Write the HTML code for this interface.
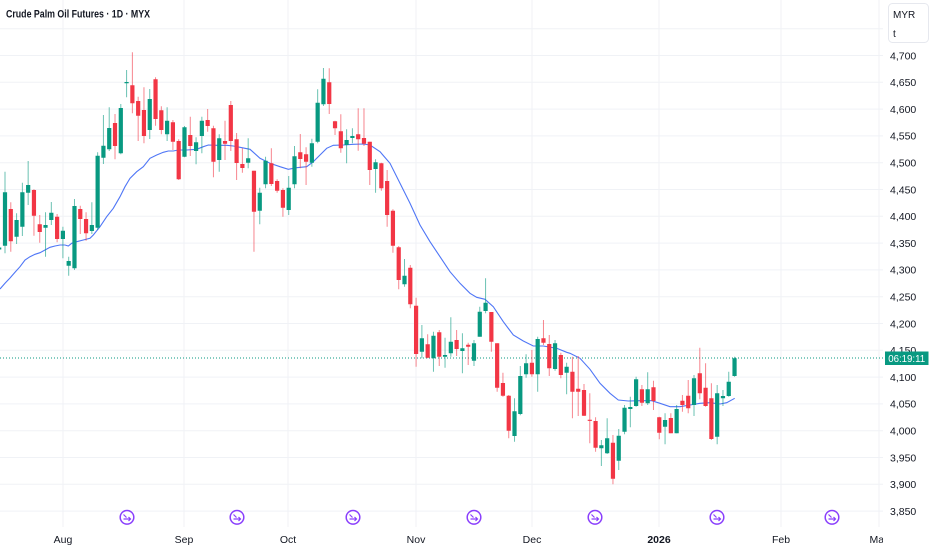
<!DOCTYPE html>
<html>
<head>
<meta charset="utf-8">
<style>
html,body{margin:0;padding:0;background:#ffffff;}
svg{display:block;}
text{font-family:"Liberation Sans",sans-serif;}
</style>
</head>
<body>
<svg width="932" height="550" viewBox="0 0 932 550" xmlns="http://www.w3.org/2000/svg">
<rect x="0" y="0" width="932" height="550" fill="#ffffff"/>
<defs><clipPath id="cc"><rect x="0" y="0" width="883" height="527"/></clipPath></defs>

<path fill="none" stroke="#f0f2f6" stroke-width="1" d="M0 28.7H883M0 55.5H883M0 82.3H883M0 109.1H883M0 135.9H883M0 162.7H883M0 189.5H883M0 216.3H883M0 243.1H883M0 269.9H883M0 296.7H883M0 323.5H883M0 350.3H883M0 377.1H883M0 403.9H883M0 430.7H883M0 457.5H883M0 484.3H883M0 511.1H883M63 0V527M184 0V527M288 0V527M416 0V527M532 0V527M659 0V527M781 0V527M879 0V527"/>

<line x1="0" y1="358" x2="883" y2="358" stroke="#089981" stroke-width="1" stroke-dasharray="1 2"/>

<g clip-path="url(#cc)">
<polyline fill="none" stroke="#4f76f6" stroke-width="1.1" points="0,289 5,283.3 10,278 15,272.3 20,266.7 25,260 30,256.7 35,254.3 40,252.7 45,250 50,247.3 55,246 60,245 65,245 68.3,246 71.7,243.3 76.7,241.7 83.3,240 90,238.3 93.3,235 100,226.7 106.7,216.7 113.3,208.3 120,196.7 125,186.7 130,178.3 136.7,171.7 143.3,166.7 150,158.3 156.7,155 163.3,152.3 168.3,151 173.3,151 178.3,150 186.7,150 196.7,149.3 203.3,146.7 208.3,145 216.7,145.3 226.7,145.3 233.3,146 240,147.3 250,149.3 260,158.3 270,163.3 280,166.7 288.3,169.3 296.7,167.7 306.7,166.7 313.3,161.7 320,155 326.7,148.3 333.3,145.3 343.3,145 353.3,144.3 363.3,144 370,145 380,151.7 390,163.3 400,183.3 410,203.3 420,225 430,241.7 440,256.7 450,271.7 460,283.3 470,293.3 476.7,297.3 485,299.3 493.3,306.7 503.3,321.7 513.3,335 523.3,341 533.3,346 543.3,346 556.7,348.3 566.7,352.3 570,353.3 580,358.3 590,369.3 600,383.3 610,393.3 618.3,400 628.3,401 640,400.7 651.7,400.7 660,403.3 670,406.7 680,406.7 690,405 700,403.3 710,402.7 720,404 726.7,402.7 734.7,398.3"/>

<path fill="none" stroke="#089981" stroke-opacity="0.6" stroke-width="1" d="M-0.8 246V251M5 171.7V253.3M16.58 213.3V244M22.37 182.7V236M28.16 161V205M45.53 212.3V256.7M51.32 202V225M62.9 226.7V258.3M68.69 256.7V275.7M74.48 199V270M91.85 202.3V234M97.64 152.3V230M103.43 115V164M109.22 107.3V151M120.8 104V154.3M126.59 70V97.3M149.75 89V139M167.12 107.3V141M184.49 126V157.3M196.07 137.3V164.3M201.86 116.7V153.3M219.23 134.3V171.7M248.18 138.3V168.3M259.76 187.7V224.3M265.55 156.7V188.3M288.71 176V215M294.5 146V188.3M311.87 138.7V166.7M317.66 89.3V143.3M323.45 68V106M346.61 129.3V163.3M352.4 128.3V143.3M375.56 159.3V192.7M404.51 259V286.7M421.88 325V358.3M433.46 331.7V371.7M445.04 337.7V367.7M450.83 317.3V356.7M462.41 333.3V373.3M473.99 340V366M479.78 306.7V336.7M485.57 278.3V313.3M514.52 398.3V441.7M520.31 366V415.3M526.1 354.3V377.7M537.68 336.7V391.7M555.05 340V370.7M566.63 362.7V394.3M601.37 440V466M607.16 418.3V454M618.74 429V470M624.53 405V434.3M630.32 396.7V427.3M636.11 376.7V406.7M647.69 372.3V405M665.06 413.3V444.3M676.64 405V433.3M694.01 375V416M717.17 385V444.3M722.96 390V406M728.75 371.7V396.7M734.54 356.7V376.7"/>

<path fill="none" stroke="#f23645" stroke-opacity="0.6" stroke-width="1" d="M10.79 202.3V251.7M33.95 189.3V235.7M39.74 215V242.7M57.11 214V242.3M80.27 205.7V234M86.06 212.3V240.7M115.01 114V159.3M132.38 52.3V113.3M138.17 96.7V141M143.96 87.3V143.3M155.54 77.3V125.7M161.33 106.3V134.3M172.91 120V150M178.7 139.3V180M190.28 116.7V156M207.65 109V131.7M213.44 125.7V177.3M225.02 120.7V160M230.81 101V151M236.6 133V180M242.39 148.3V172.7M253.97 170.7V251.7M271.34 148.3V186M277.13 179.3V192.7M282.92 188.3V216.7M300.29 134V168.3M306.08 147.3V185M329.24 68.3V114M335.03 120.7V135M340.82 114.3V152.7M358.19 108.3V150.7M363.98 108.3V146M369.77 141.7V185M381.35 162.7V190.7M387.14 170V226.7M392.93 209.3V252.7M398.72 246V289.3M410.3 265V308.3M416.09 297.7V366.7M427.67 334.3V358.3M439.25 330V366M456.62 330V356M468.2 342.7V365M491.36 312V351.7M497.15 343.3V391.7M502.94 372.7V396.7M508.73 395V438.3M531.89 350V376.7M543.47 320V345M549.26 335V376M560.84 352.7V378.3M572.42 356.7V418.3M578.21 356V416M584 384V416M589.79 393.3V443.3M595.58 417.3V451.7M612.95 435V484.3M641.9 385V406M653.48 380.7V410M659.27 416.7V439.3M670.85 413.3V433.3M682.43 395V411.7M688.22 380V413.3M699.8 347.7V399.3M705.59 363.3V406.7M711.38 383.3V440"/>

<path fill="#089981" d="M-2.9 247.5h4.2V249.5h-4.2zM2.9 192.3h4.2V245.7h-4.2zM14.48 220h4.2V236.7h-4.2zM20.27 192.3h4.2V226.7h-4.2zM26.06 185h4.2V192.7h-4.2zM43.43 225h4.2V227.7h-4.2zM49.22 212.7h4.2V220h-4.2zM60.8 230.7h4.2V239h-4.2zM66.59 261h4.2V265.7h-4.2zM72.38 206h4.2V268.3h-4.2zM89.75 225h4.2V231h-4.2zM95.54 155.7h4.2V227.7h-4.2zM101.33 145.7h4.2V157.7h-4.2zM107.12 128h4.2V149.3h-4.2zM118.7 108h4.2V153.3h-4.2zM124.49 82h4.2V83.2h-4.2zM147.65 99h4.2V130h-4.2zM165.02 120.7h4.2V134.3h-4.2zM182.39 127.3h4.2V156.7h-4.2zM193.97 142.3h4.2V151h-4.2zM199.76 120.7h4.2V136h-4.2zM217.13 138.3h4.2V160h-4.2zM246.08 158.3h4.2V162.7h-4.2zM257.66 192.7h4.2V210.7h-4.2zM263.45 160.7h4.2V184.3h-4.2zM286.61 187.7h4.2V210h-4.2zM292.4 156.3h4.2V184.3h-4.2zM309.77 143.3h4.2V162.7h-4.2zM315.56 102.7h4.2V141.7h-4.2zM321.35 78.7h4.2V104.3h-4.2zM344.51 140h4.2V145h-4.2zM350.3 136h4.2V138h-4.2zM373.46 162.3h4.2V169h-4.2zM402.41 275.7h4.2V284.3h-4.2zM419.78 338.3h4.2V351.7h-4.2zM431.36 335.7h4.2V358.3h-4.2zM442.94 355h4.2V356.7h-4.2zM448.73 341.7h4.2V353.3h-4.2zM460.31 348.3h4.2V351h-4.2zM471.89 343.3h4.2V360.7h-4.2zM477.68 311.7h4.2V336.7h-4.2zM483.47 302.7h4.2V311h-4.2zM512.42 411.3h4.2V436h-4.2zM518.21 376h4.2V414h-4.2zM524 363.3h4.2V374.3h-4.2zM535.58 339h4.2V374.3h-4.2zM552.95 343.3h4.2V369h-4.2zM564.53 366.7h4.2V372.7h-4.2zM599.27 445.3h4.2V448.3h-4.2zM605.06 438.3h4.2V453.3h-4.2zM616.64 435.7h4.2V460.7h-4.2zM622.43 407.7h4.2V431.7h-4.2zM628.22 407h4.2V409h-4.2zM634.01 379.3h4.2V406h-4.2zM645.59 389.3h4.2V403.3h-4.2zM662.96 420h4.2V426.7h-4.2zM674.54 409h4.2V433.3h-4.2zM691.91 378.3h4.2V405h-4.2zM715.07 393.3h4.2V436.7h-4.2zM720.86 396h4.2V398.3h-4.2zM726.65 381.7h4.2V396h-4.2zM732.44 358.3h4.2V376h-4.2z"/>

<path fill="#f23645" d="M8.69 209h4.2V241.3h-4.2zM31.85 190h4.2V215.7h-4.2zM37.64 224.3h4.2V232h-4.2zM55.01 216.7h4.2V239h-4.2zM78.17 209h4.2V219h-4.2zM83.96 219h4.2V233.3h-4.2zM112.91 123h4.2V146h-4.2zM130.28 85.3h4.2V103.3h-4.2zM136.07 101h4.2V115.7h-4.2zM141.86 110h4.2V136h-4.2zM153.44 79.3h4.2V119h-4.2zM159.23 110.3h4.2V130h-4.2zM170.81 122.3h4.2V141.7h-4.2zM176.6 141h4.2V179.3h-4.2zM188.18 135h4.2V146h-4.2zM205.55 120h4.2V126h-4.2zM211.34 128.3h4.2V161.7h-4.2zM222.92 141h4.2V143.7h-4.2zM228.71 105h4.2V141h-4.2zM234.5 139.3h4.2V163h-4.2zM240.29 164h4.2V168h-4.2zM251.87 170.7h4.2V211.7h-4.2zM269.24 163.3h4.2V184h-4.2zM275.03 181h4.2V190.7h-4.2zM280.82 190h4.2V207.7h-4.2zM298.19 152.3h4.2V159h-4.2zM303.98 154.3h4.2V161.7h-4.2zM327.14 82.3h4.2V104h-4.2zM332.93 121.3h4.2V128.3h-4.2zM338.72 131.3h4.2V148.3h-4.2zM356.09 134.3h4.2V139.3h-4.2zM361.88 138h4.2V143.7h-4.2zM367.67 141.7h4.2V170h-4.2zM379.25 163.3h4.2V188.3h-4.2zM385.04 181h4.2V215h-4.2zM390.83 210.7h4.2V245.7h-4.2zM396.62 247.3h4.2V280h-4.2zM408.2 267.7h4.2V304.3h-4.2zM413.99 305.7h4.2V354h-4.2zM425.57 344.3h4.2V357.7h-4.2zM437.15 332.3h4.2V356.7h-4.2zM454.52 340h4.2V349h-4.2zM466.1 344.7h4.2V346.7h-4.2zM489.26 312h4.2V341.7h-4.2zM495.05 343.3h4.2V387.7h-4.2zM500.84 383h4.2V395.7h-4.2zM506.63 395.7h4.2V430.7h-4.2zM529.79 362.7h4.2V374.3h-4.2zM541.37 338.3h4.2V342.7h-4.2zM547.16 344h4.2V368.3h-4.2zM558.74 355h4.2V375h-4.2zM570.32 371.7h4.2V391.7h-4.2zM576.11 388.7h4.2V391.7h-4.2zM581.9 390h4.2V415.7h-4.2zM587.69 419.7h4.2V420.9h-4.2zM593.48 421h4.2V447.7h-4.2zM610.85 442.7h4.2V478.7h-4.2zM639.8 389.3h4.2V402.7h-4.2zM651.38 387.3h4.2V401h-4.2zM657.17 417.3h4.2V432.7h-4.2zM668.75 418h4.2V433.3h-4.2zM680.33 400.7h4.2V405h-4.2zM686.12 395.7h4.2V408.3h-4.2zM697.7 373.3h4.2V393.3h-4.2zM703.49 387.7h4.2V406h-4.2zM709.28 398.3h4.2V439h-4.2z"/>
</g>

<g fill="#ffffff" stroke="#8a3ffc" stroke-width="1.5">
<circle cx="127" cy="517.3" r="6.8"/><circle cx="237" cy="517.3" r="6.8"/><circle cx="353" cy="517.3" r="6.8"/><circle cx="474" cy="517.3" r="6.8"/><circle cx="595" cy="517.3" r="6.8"/><circle cx="717" cy="517.3" r="6.8"/><circle cx="832" cy="517.3" r="6.8"/>
</g>
<path fill="none" stroke="#8a3ffc" stroke-width="1.2" d="M123.5 514.5L126.5 517.5M123.5 519H130.5M128.5 517L130.5 519L128.5 521M233.5 514.5L236.5 517.5M233.5 519H240.5M238.5 517L240.5 519L238.5 521M349.5 514.5L352.5 517.5M349.5 519H356.5M354.5 517L356.5 519L354.5 521M470.5 514.5L473.5 517.5M470.5 519H477.5M475.5 517L477.5 519L475.5 521M591.5 514.5L594.5 517.5M591.5 519H598.5M596.5 517L598.5 519L596.5 521M713.5 514.5L716.5 517.5M713.5 519H720.5M718.5 517L720.5 519L718.5 521M828.5 514.5L831.5 517.5M828.5 519H835.5M833.5 517L835.5 519L833.5 521"/>

<text x="6" y="17.3" font-size="11" font-weight="bold" fill="#131722" textLength="144" lengthAdjust="spacingAndGlyphs">Crude Palm Oil Futures · 1D · MYX</text>

<g font-size="10.5" fill="#131722" text-anchor="middle">
<text x="63" y="543">Aug</text>
<text x="184" y="543">Sep</text>
<text x="288" y="543">Oct</text>
<text x="416" y="543">Nov</text>
<text x="532" y="543">Dec</text>
<text x="659" y="543" font-weight="bold">2026</text>
<text x="781" y="543">Feb</text>
</g>
<svg x="0" y="527" width="883" height="23" overflow="hidden"><text x="878.5" y="16" font-size="10.5" fill="#131722" text-anchor="middle">Mar</text></svg>

<rect x="888.5" y="3.5" width="40" height="39" rx="4" fill="#ffffff" stroke="#e6e8ee"/>
<text x="893" y="18" font-size="10" fill="#131722">MYR</text>
<text x="893" y="37" font-size="10" fill="#131722">t</text>
<g font-size="10.5" fill="#131722">
<text x="890" y="59.3">4,700</text>
<text x="890" y="86.1">4,650</text>
<text x="890" y="112.9">4,600</text>
<text x="890" y="139.7">4,550</text>
<text x="890" y="166.5">4,500</text>
<text x="890" y="193.3">4,450</text>
<text x="890" y="220.1">4,400</text>
<text x="890" y="246.9">4,350</text>
<text x="890" y="273.7">4,300</text>
<text x="890" y="300.5">4,250</text>
<text x="890" y="327.3">4,200</text>
<text x="890" y="354.1">4,150</text>
<text x="890" y="380.9">4,100</text>
<text x="890" y="407.7">4,050</text>
<text x="890" y="434.5">4,000</text>
<text x="890" y="461.3">3,950</text>
<text x="890" y="488.1">3,900</text>
<text x="890" y="514.9">3,850</text>
</g>
<rect x="885" y="351.5" width="43.5" height="13.5" fill="#089981"/>
<text x="906.7" y="362" font-size="10.5" fill="#ffffff" text-anchor="middle" textLength="37" lengthAdjust="spacingAndGlyphs">06:19:11</text>
</svg>
</body>
</html>
